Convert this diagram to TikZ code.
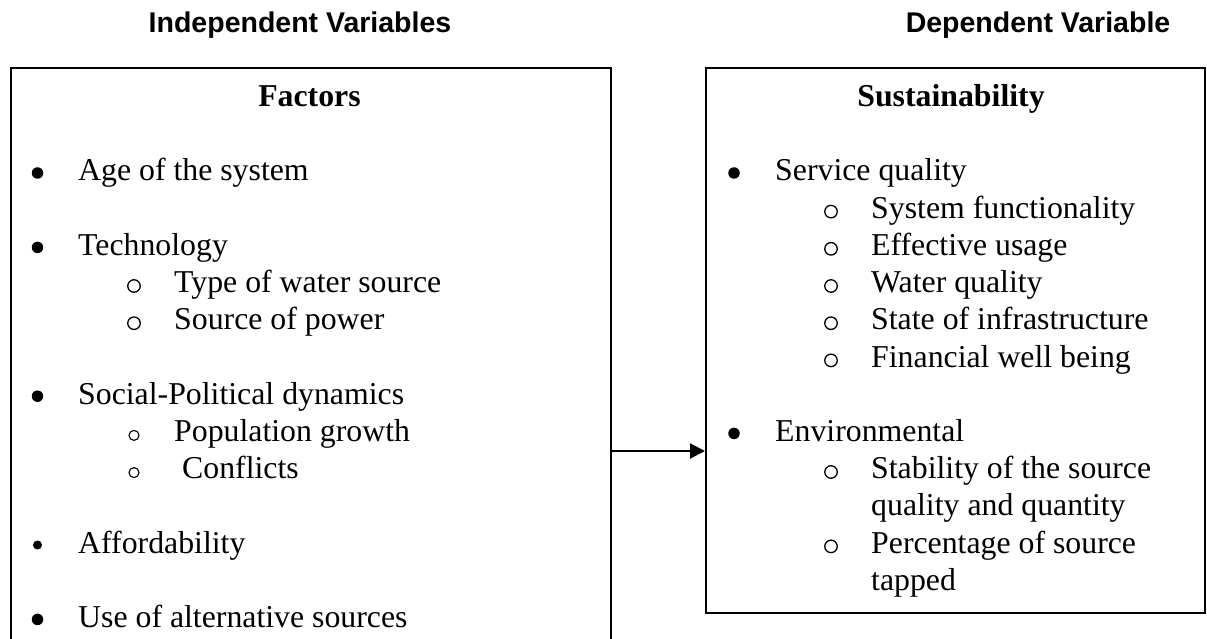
\documentclass[tikz,border=0pt]{standalone}
\usepackage{fontspec}
\setmainfont{Liberation Serif}
\newfontfamily\headfont{Liberation Sans}
\usetikzlibrary{arrows.meta}
\begin{document}
\begin{tikzpicture}[x=1pt,y=-1pt,
  frame/.style={draw=black, line width=2pt, rectangle, inner sep=0pt, anchor=north west},
  heading/.style={font=\headfont\bfseries\fontsize{28.5}{32}\selectfont, anchor=base, inner sep=0pt},
  boxtitle/.style={font=\bfseries\fontsize{31.8}{37}\selectfont, anchor=base, inner sep=0pt},
  item/.style={font=\fontsize{31.8}{37}\selectfont, anchor=base west, inner sep=0pt},
  dot/.style={fill=black, circle, inner sep=0pt, minimum size=11.5pt},
  smalldot/.style={fill=black, circle, inner sep=0pt, minimum size=9pt},
  ring/.style={draw=black, circle, line width=1.3pt, inner sep=0pt, minimum size=12.5pt},
  smallring/.style={draw=black, circle, line width=1.1pt, inner sep=0pt, minimum size=10pt},
  link/.style={line width=2pt, -{Triangle[length=15pt,width=15pt]}},
]
\clip (0,0) rectangle (1207,639);
\fill[white] (0,0) rectangle (1207,639);

% column headings
\node[heading] (hind) at (300,33) {Independent Variables};
\node[heading] (hdep) at (1038,33) {Dependent Variable};

% the two frames (the left one runs past the lower edge)
\node[frame, minimum width=600pt, minimum height=620pt] (lbox) at (9.5,67) {};
\node[frame, minimum width=499pt, minimum height=545pt] (rbox) at (705,67) {};

% ---- left frame: factors ----
\node[boxtitle] (tfac) at (309.5,106.6) {Factors};

\node[dot] (b1) at (37.5,173) {};
\node[item] (i1) at (78,181) {Age of the system};

\node[dot] (b2) at (37.5,247.4) {};
\node[item] (i2) at (78,255.4) {Technology};
\node[ring] (r21) at (134,286) {};
\node[item] (i21) at (174,292.6) {Type of water source};
\node[ring] (r22) at (134,323.2) {};
\node[item] (i22) at (174,329.8) {Source of power};

\node[dot] (b3) at (37.5,396.2) {};
\node[item] (i3) at (78,404.2) {Social-Political dynamics};
\node[smallring] (r31) at (134,435.4) {};
\node[item] (i31) at (174,441.4) {Population growth};
\node[smallring] (r32) at (134,472.6) {};
\node[item] (i32) at (182,478.6) {Conflicts};

\node[smalldot] (b4) at (37.5,545) {};
\node[item] (i4) at (78,553) {Affordability};

\node[dot] (b5) at (37.5,619.4) {};
\node[item] (i5) at (78,627.4) {Use of alternative sources};

% ---- right frame: sustainability ----
\node[boxtitle] (tsus) at (951,106.6) {Sustainability};

\node[dot] (c1) at (734,173) {};
\node[item] (j1) at (775,181) {Service quality};
\node[ring] (s11) at (831,211.6) {};
\node[item] (j11) at (871,218.2) {System functionality};
\node[ring] (s12) at (831,248.8) {};
\node[item] (j12) at (871,255.4) {Effective usage};
\node[ring] (s13) at (831,286) {};
\node[item] (j13) at (871,292.6) {Water quality};
\node[ring] (s14) at (831,323.2) {};
\node[item] (j14) at (871,329.8) {State of infrastructure};
\node[ring] (s15) at (831,360.4) {};
\node[item] (j15) at (871,367) {Financial well being};

\node[dot] (c2) at (734,433.4) {};
\node[item] (j2) at (775,441.4) {Environmental};
\node[ring] (s21) at (831,472) {};
\node[item] (j21) at (871,478.6) {Stability of the source};
\node[item] (j21b) at (871,515.8) {quality and quantity};
\node[ring] (s22) at (831,546.4) {};
\node[item] (j22) at (871,553) {Percentage of source};
\node[item] (j22b) at (871,590.2) {tapped};

% influence arrow between the frames
\coordinate (ay) at (0,451);
\draw[link] (lbox.east |- ay) -- (rbox.west |- ay);
\end{tikzpicture}
\end{document}
